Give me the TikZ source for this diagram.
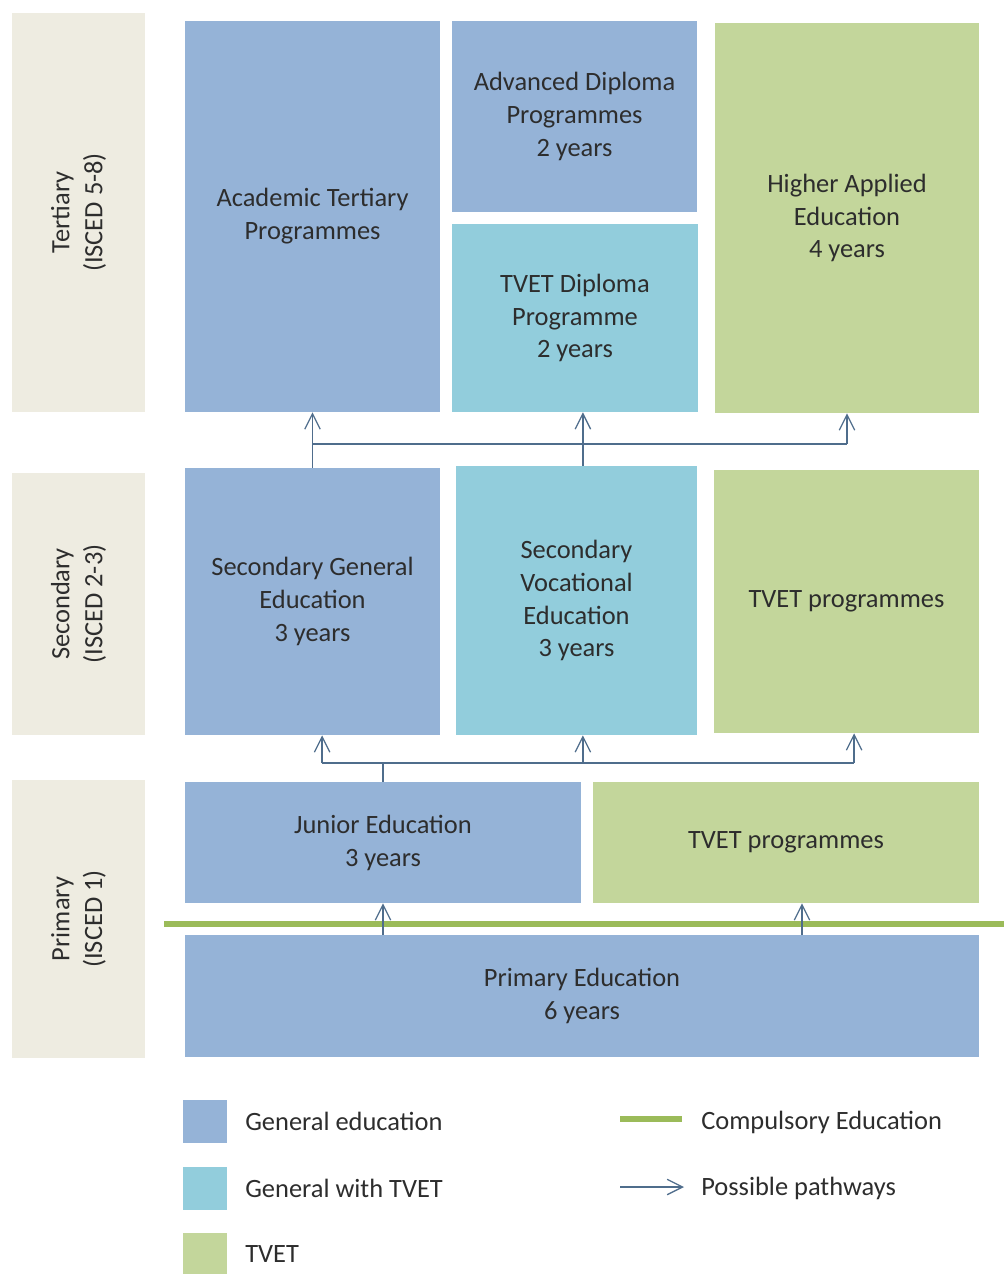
\documentclass[tikz,border=0pt]{standalone}
\usepackage{fontspec}
\setmainfont{Carlito}
\usetikzlibrary{arrows.meta}
\definecolor{genblue}{RGB}{149,179,215}
\definecolor{tvetcyan}{RGB}{146,205,220}
\definecolor{tvetgreen}{RGB}{195,214,155}
\definecolor{levelgrey}{RGB}{238,236,225}
\definecolor{compgreen}{RGB}{155,187,89}
\definecolor{pathblue}{RGB}{79,109,140}
\definecolor{txt}{RGB}{45,45,45}

\begin{document}
\begin{tikzpicture}[x=0.025cm, y=-0.025cm,
    every node/.style={font=\fontsize{18.8}{23.4}\selectfont, text=txt, align=center, inner sep=0pt},
    level/.style={fill=levelgrey, rotate=90, minimum height=3.325cm},
    gen/.style={fill=genblue},
    mix/.style={fill=tvetcyan},
    voc/.style={fill=tvetgreen},
    bus/.style={pathblue, line width=0.9pt},
    route/.style={bus, -{Straight Barb[length=11pt,width=11pt]}},
    comp/.style={compgreen, line width=4.5pt}]
    \useasboundingbox (0,0) rectangle (1004,1274);

    % ISCED levels
    \node[level, minimum width=9.975cm] (ter) at (78.5,212.5) {Tertiary\\(ISCED 5-8)};
    \node[level, minimum width=6.55cm] (sec) at (78.5,604) {Secondary\\(ISCED 2-3)};
    \node[level, minimum width=6.95cm] (pri) at (78.5,919) {Primary\\(ISCED 1)};

    % Tertiary programmes
    \node[gen, minimum width=6.375cm, minimum height=9.775cm] (acad) at (312.5,216.5) {Academic Tertiary\\Programmes};
    \node[gen, minimum width=6.125cm, minimum height=4.775cm] (adv) at (574.5,116.5) {Advanced Diploma\\Programmes\\2 years};
    \node[mix, minimum width=6.15cm, minimum height=4.7cm] (tdip) at (575,318) {TVET Diploma\\Programme\\2 years};
    \node[voc, minimum width=6.6cm, minimum height=9.75cm] (high) at (847,218) {Higher Applied\\Education\\4 years};

    % Secondary programmes
    \node[gen, minimum width=6.375cm, minimum height=6.675cm] (sgen) at (312.5,601.5) {Secondary General\\Education\\3 years};
    \node[mix, minimum width=6.025cm, minimum height=6.725cm] (svoc) at (576.5,600.5) {Secondary\\Vocational\\Education\\3 years};
    \node[voc, minimum width=6.625cm, minimum height=6.575cm] (stvet) at (846.5,601.5) {TVET programmes};

    % Primary programmes
    \node[gen, minimum width=9.9cm, minimum height=3.025cm] (jun) at (383,842.5) {Junior Education\\3 years};
    \node[voc, minimum width=9.65cm, minimum height=3.025cm] (ptvet) at (786,842.5) {TVET programmes};
    \node[gen, minimum width=19.85cm, minimum height=3.05cm] (prim) at (582,996) {Primary Education\\6 years};

    % Compulsory education
    \coordinate (compL) at (164,924);
    \coordinate (compR) at (1004,924);
    \draw[comp] (compL) -- (compR);

    % Pathways into tertiary
    \coordinate (busT) at (0,444);
    \draw[bus] (sgen.north |- busT) -- (high.south |- busT);
    \draw[route] (sgen.north) -- (acad.south);
    \draw[route] ([xshift=0.16cm]svoc.north) -- ([xshift=0.16cm]svoc.north |- tdip.south);
    \draw[route] (high.south |- busT) -- (high.south);

    % Pathways into secondary
    \coordinate (busS) at (0,763);
    \draw[bus] ([xshift=0.24cm]sgen.south |- busS) -- ([xshift=0.19cm]stvet.south |- busS);
    \draw[bus] (jun.north) -- (jun.north |- busS);
    \draw[route] ([xshift=0.24cm]sgen.south |- busS) -- ([xshift=0.24cm]sgen.south);
    \draw[route] ([xshift=0.16cm]svoc.south |- busS) -- ([xshift=0.16cm]svoc.south);
    \draw[route] ([xshift=0.19cm]stvet.south |- busS) -- ([xshift=0.19cm]stvet.south);

    % Pathways from primary
    \draw[route] (jun.south |- prim.north) -- (jun.south);
    \draw[route] ([xshift=0.4cm]ptvet.south |- prim.north) -- ([xshift=0.4cm]ptvet.south);

    % Legend
    \foreach \y/\c/\t [count=\i] in {1121.5/genblue/General education,
        1188/tvetcyan/General with TVET, 1254.5/tvetgreen/TVET} {
        \node[fill=\c, minimum width=1.1cm, minimum height=1.075cm] (key\i) at (205,\y) {};
        \node[anchor=west] (keytext\i) at (245,\y) {\t};
      }
    \coordinate (compA) at (620,1119);
    \coordinate (compB) at (682,1119);
    \draw[comp] (compA) -- (compB);
    \node[anchor=west] (comptext) at (701,1122) {Compulsory Education};
    \coordinate (pathA) at (620,1187);
    \coordinate (pathB) at (684,1187);
    \draw[route] (pathA) -- (pathB);
    \node[anchor=west] (pathtext) at (701,1188) {Possible pathways};
  \end{tikzpicture}
\end{document}
